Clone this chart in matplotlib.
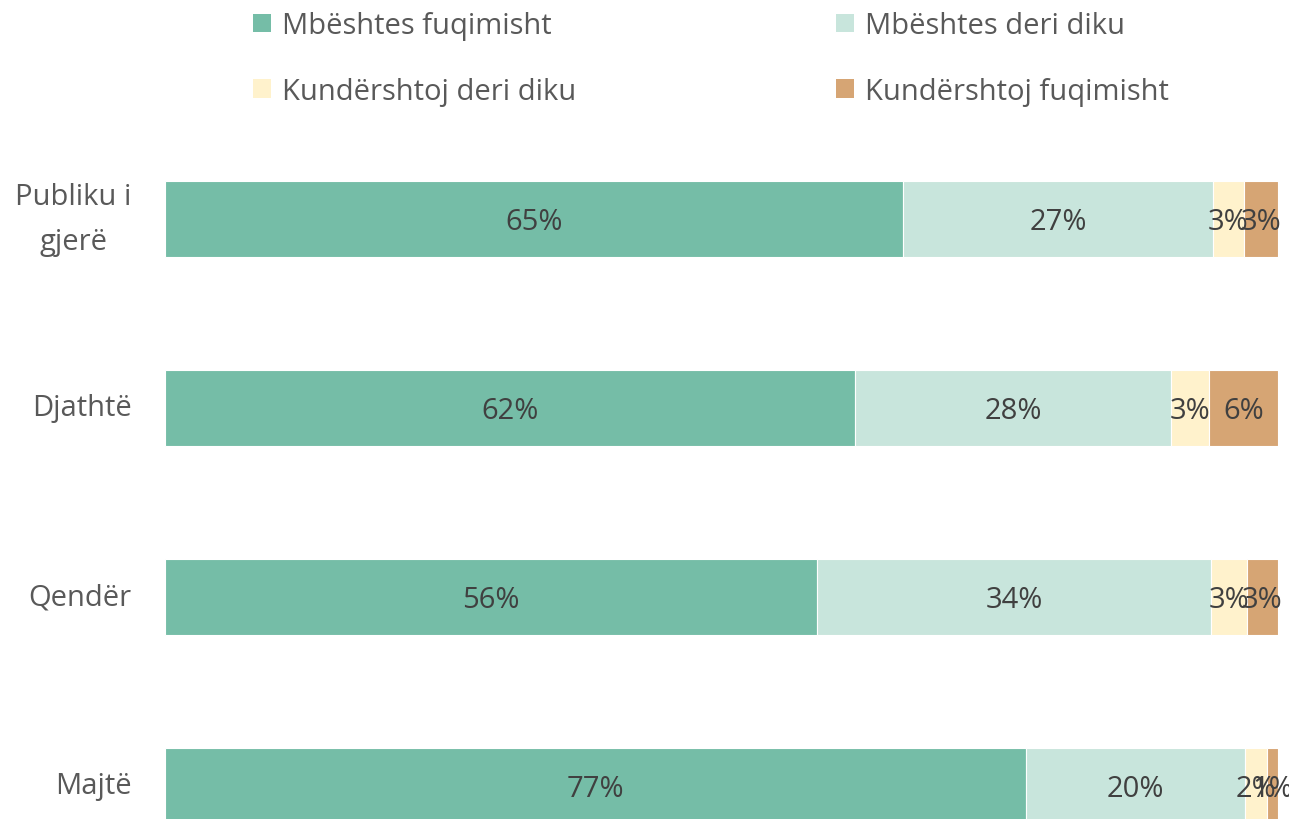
import numpy as np
import matplotlib.pyplot as plt
from matplotlib.patches import Patch

plt.rcParams['font.family'] = ['Open Sans', 'DejaVu Sans']

categories = ['Publiku i\ngjerë', 'Djathtë', 'Qendër', 'Majtë']
series_names = ['Mbështes fuqimisht', 'Mbështes deri diku',
                'Kundërshtoj deri diku', 'Kundërshtoj fuqimisht']
values = {
    'Mbështes fuqimisht': [65.4, 62.0, 56.4, 77.4],
    'Mbështes deri diku': [27.4, 28.4, 34.1, 19.6],
    'Kundërshtoj deri diku': [2.8, 3.4, 3.1, 2.0],
    'Kundërshtoj fuqimisht': [3.0, 6.2, 2.7, 1.0],
}
colors = ['#75BDA7', '#C8E5DC', '#FFF2CC', '#D6A574']


def plot_stacked():
    fig = plt.figure(figsize=(12.89, 8.2), dpi=100)
    ax = fig.add_axes([165 / 1289, 0.0, (1278 - 165) / 1289, 1 - 182 / 820])

    data = np.array([values[s] for s in series_names], dtype=float)
    totals = data.sum(axis=0)
    shares = data / totals

    y = np.arange(len(categories))
    left = np.zeros(len(categories))
    for i, name in enumerate(series_names):
        ax.barh(y, shares[i], left=left, height=0.4, color=colors[i],
                edgecolor='white', linewidth=0.8)
        for j in range(len(categories)):
            ax.text(left[j] + shares[i][j] / 2, y[j] + 0.015,
                    f'{round(data[i][j])}%',
                    ha='center', va='center', fontsize=21, color='#404040')
        left += shares[i]

    ax.set_xlim(0, 1)
    ax.set_ylim(3.175, -0.2)
    ax.set_yticks(y)
    ax.set_yticklabels(categories, fontsize=21, color='#595959',
                       ha='right', va='center', multialignment='center',
                       linespacing=1.7)
    ax.tick_params(axis='y', length=0, pad=24)
    ax.set_xticks([])
    for sp in ax.spines.values():
        sp.set_visible(False)

    # row-wise legend order: matplotlib fills columns first
    order = [0, 2, 1, 3]
    handles = [Patch(facecolor=colors[k], edgecolor='none') for k in order]
    labels = [series_names[k] for k in order]
    fig.legend(handles, labels, loc='upper left', ncol=2,
               bbox_to_anchor=(227 / 1289, 1.017), frameon=False,
               fontsize=21, labelcolor='#595959', handlelength=0.6,
               handleheight=0.6, handletextpad=0.4, columnspacing=8.9,
               labelspacing=1.25)

    fig.savefig('out.png', dpi=100)


def main():
    plot_stacked()


if __name__ == '__main__':
    main()
